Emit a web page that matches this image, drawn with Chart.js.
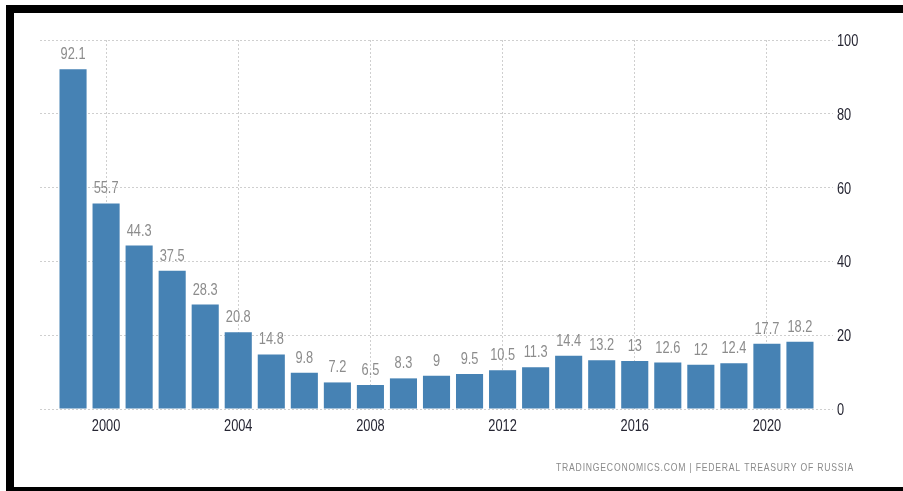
<!DOCTYPE html>
<html>
<head>
<meta charset="utf-8">
<script src="https://cdn.jsdelivr.net/npm/chart.js@4/dist/chart.umd.min.js"></script>
<style>
  html, body { margin: 0; padding: 0; background: #fff; }
  #wrap { position: relative; width: 903px; height: 491px; overflow: hidden; }
  #chart { position: absolute; left: 0; top: 0; }
  .edge { position: absolute; background: #000; }
</style>
</head>
<body>
<div id="wrap">
  <canvas id="chart" width="903" height="491"></canvas>
  <div class="edge" style="left:6px;top:5px;width:897px;height:8px"></div>
  <div class="edge" style="left:6px;top:5px;width:8px;height:486px"></div>
  <div class="edge" style="left:6px;top:487px;width:897px;height:4px"></div>
</div>
<script>
// Russia government debt to GDP, yearly
const years = [1999, 2000, 2001, 2002, 2003, 2004, 2005, 2006, 2007, 2008, 2009, 2010,
  2011, 2012, 2013, 2014, 2015, 2016, 2017, 2018, 2019, 2020, 2021];
const debtValues = [92.1, 55.7, 44.3, 37.5, 28.3, 20.8, 14.8, 9.8, 7.2, 6.5, 8.3, 9,
  9.5, 10.5, 11.3, 14.4, 13.2, 13, 12.6, 12, 12.4, 17.7, 18.2];
const xTickLabels = [2000, 2004, 2008, 2012, 2016, 2020];
const yTickLabels = [0, 20, 40, 60, 80, 100];
const sourceText = 'TRADINGECONOMICS.COM | FEDERAL TREASURY OF RUSSIA';

const BAR_COLOR = '#4682b4';
const GRID_COLOR = '#cfcfcf';
const FONT = "'Liberation Sans', Arial, sans-serif";
const NARROW = 0.8; // horizontal squeeze to imitate a narrow face

// draw text squeezed horizontally, anchored at x
function narrowText(ctx, text, x, y, align) {
  ctx.save();
  ctx.translate(x, y);
  ctx.scale(NARROW, 1);
  ctx.textAlign = align;
  ctx.fillText(text, 0, 0);
  ctx.restore();
}

// value labels, axis labels and source line
const textLayer = {
  id: 'textLayer',
  afterDraw(chart) {
    const ctx = chart.ctx;
    const xs = chart.scales.x;
    const ys = chart.scales.y;
    ctx.save();
    ctx.textBaseline = 'alphabetic';
    ctx.font = '16px ' + FONT;

    ctx.fillStyle = '#8c8c8c';
    chart.getDatasetMeta(0).data.forEach((bar, i) => {
      narrowText(ctx, String(debtValues[i]), bar.x, bar.y - 10, 'center');
    });

    ctx.fillStyle = '#262633';
    xTickLabels.forEach(v => {
      narrowText(ctx, String(v), xs.getPixelForValue(v), xs.top + 22, 'center');
    });
    yTickLabels.forEach(v => {
      narrowText(ctx, String(v), ys.left + 4, ys.getPixelForValue(v) + 6, 'left');
    });

    // source line, fitted to its span
    ctx.font = '11px ' + FONT;
    ctx.letterSpacing = '1px';
    ctx.fillStyle = '#8a8a8a';
    const w = ctx.measureText(sourceText).width;
    ctx.translate(556, 471);
    ctx.scale(298 / w, 1);
    ctx.textAlign = 'left';
    ctx.fillText(sourceText, 0, 0);
    ctx.restore();
  },
};

new Chart(document.getElementById('chart'), {
  type: 'bar',
  data: {
    datasets: [{
      data: years.map((y, i) => ({ x: y, y: debtValues[i] })),
      backgroundColor: BAR_COLOR,
      borderWidth: 0,
      categoryPercentage: 1,
      barPercentage: 0.82,
    }],
  },
  options: {
    responsive: false,
    animation: false,
    layout: { padding: { left: 40, top: 40, right: 0, bottom: 0 } },
    plugins: {
      legend: { display: false },
      tooltip: { enabled: false },
    },
    scales: {
      x: {
        type: 'linear',
        min: 1998,
        max: 2022,
        offset: false,
        afterBuildTicks(axis) {
          axis.ticks = xTickLabels.map(v => ({ value: v }));
        },
        afterFit(axis) { axis.height = 82; },
        grid: { color: GRID_COLOR, drawTicks: false, offset: false },
        border: { display: false, dash: [2, 2] },
        ticks: { display: false },
      },
      y: {
        position: 'right',
        min: 0,
        max: 100,
        afterBuildTicks(axis) {
          axis.ticks = yTickLabels.map(v => ({ value: v }));
        },
        afterFit(axis) { axis.width = 70; },
        grid: { color: GRID_COLOR, drawTicks: false },
        border: { display: false, dash: [2, 2] },
        ticks: { display: false },
      },
    },
  },
  plugins: [textLayer],
});
</script>
</body>
</html>
